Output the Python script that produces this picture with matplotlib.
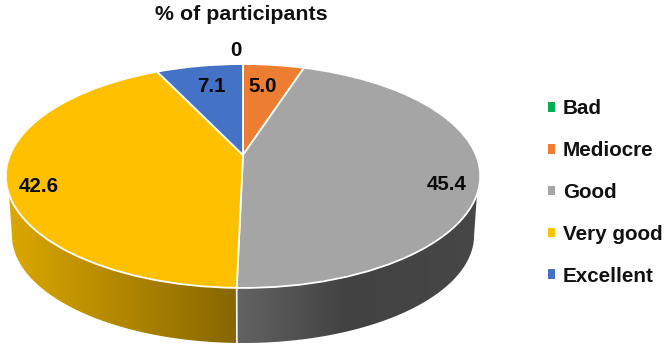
import numpy as np
import matplotlib
matplotlib.use("Agg")
import matplotlib.pyplot as plt
from matplotlib.transforms import Transform
from matplotlib.patches import Polygon
from matplotlib.colors import LinearSegmentedColormap

categories = ["Bad", "Mediocre", "Good", "Very good", "Excellent"]
values = [0.0, 5.0, 45.4, 42.6, 7.1]
value_labels = ["0", "5.0", "45.4", "42.6", "7.1"]
colors = ["#00B050", "#ED7D31", "#A5A5A5", "#FFC000", "#4472C4"]

plt.rcParams["font.family"] = ["Liberation Sans", "DejaVu Sans"]
plt.rcParams["font.weight"] = "bold"

CX, CY, RX, RY, K = 243.0, 155.0, 233.0, 108.0, 0.1875
CYB, RXB, RYB = 215.0, 227.0, 104.0


def project(xy, cy=CY, rx=RX, ry=RY):
    xy = np.asarray(xy, dtype=float)
    s = 1.0 / (1.0 + K * xy[:, 1])
    return np.column_stack([CX + rx * xy[:, 0] * s, cy - ry * xy[:, 1] * s])


class Perspective(Transform):
    input_dims = output_dims = 2
    is_separable = False
    has_inverse = False

    def transform_non_affine(self, values):
        return project(values)


def rim(th_deg, cy=CY, rx=RX, ry=RY):
    t = np.radians(th_deg)
    return project(np.column_stack([np.sin(t), np.cos(t)]), cy, rx, ry)


fig = plt.figure(figsize=(6.66, 3.5), dpi=100)
ax = fig.add_axes([0, 0, 1, 1])

wedges, _ = ax.pie(values, colors=colors, startangle=90, counterclock=False,
                   wedgeprops=dict(edgecolor="white", linewidth=1.3), normalize=True)
persp = Perspective() + ax.transData
for w in wedges:
    w.set_transform(persp)
    w.set_zorder(5)

# Side wall of the disc, split where the slices that face the viewer meet
split = (values[0] + values[1] + values[2]) / sum(values) * 360.0
cmap_grey = LinearSegmentedColormap.from_list("g", [(0, "#636363"), (0.45, "#424242"), (1, "#474747")])
cmap_yel = LinearSegmentedColormap.from_list("y", [(0, "#DDA800"), (1, "#866600")])
sides = [
    (110.0, split, 100.8, split, cmap_grey, (237, 482)),
    (split, 250.0, split, 259.2, cmap_yel, (5, 238)),
]
for a0, a1, b0, b1, cmap, (xa, xb) in sides:
    upper = rim(np.linspace(a0, a1, 120))
    lower = rim(np.linspace(b1, b0, 120), CYB, RXB, RYB)
    poly = Polygon(np.vstack([upper, lower]), closed=True, transform=ax.transData,
                   facecolor="none", edgecolor="none")
    ax.add_patch(poly)
    im = ax.imshow(np.linspace(0, 1, 256)[None, :], cmap=cmap, aspect="auto",
                   extent=(xa, xb, 350, 150), zorder=2, interpolation="bilinear")
    im.set_clip_path(poly)

# Seam between the two side pieces
seam = np.vstack([rim(np.array([split])), rim(np.array([split]), CYB, RXB, RYB)])
ax.plot(seam[:, 0], seam[:, 1], color="white", lw=1.2, zorder=3)

ax.set_aspect("auto")
ax.set_xlim(0, 666)
ax.set_ylim(350, 0)
ax.axis("off")

label_pos = [(236, 50), (263, 87), (447, 185), (39, 186), (211, 87)]
for txt, (x, y) in zip(value_labels, label_pos):
    ax.text(x, y, txt, ha="center", va="center", fontsize=14.8, fontweight="bold",
            color="#0A0A0A", zorder=8)

ax.text(241, 15, "% of participants", ha="center", va="center", fontsize=15.4,
        fontweight="bold", color="#111111")

leg = ax.legend(wedges, categories, loc="center left", bbox_to_anchor=(547.5 / 666, 1 - 192.5 / 350),
                bbox_transform=ax.transAxes, frameon=False, fontsize=14.9, handlelength=0.34,
                handleheight=0.34, handletextpad=0.4, labelspacing=1.1, borderpad=0, borderaxespad=0)
for t in leg.get_texts():
    t.set_color("#111111")
for h in leg.legend_handles:
    h.set_edgecolor("none")

fig.savefig("out.png", dpi=100, facecolor="white")
